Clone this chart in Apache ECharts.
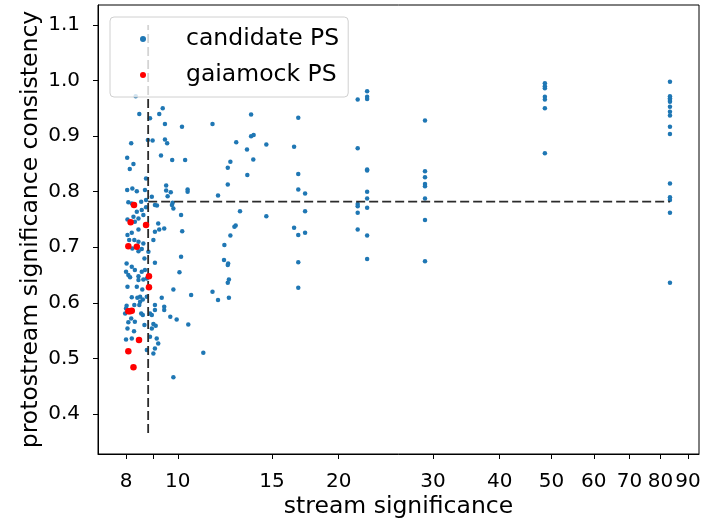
<!DOCTYPE html>
<html><head><meta charset="utf-8">
<script src="https://cdn.jsdelivr.net/npm/echarts@6/dist/echarts.min.js"></script>
<style>html,body{margin:0;padding:0;background:#fff}#c{width:711px;height:519px}</style>
</head><body><div id="c"></div>
<script>
// ---- data ----
const xTickValues  = [8, 9, 10, 15, 20, 30, 40, 50, 60, 70, 80, 90];
const xLabelValues = [8, 10, 15, 20, 30, 40, 50, 60, 70, 80, 90];
const yTickValues  = [0.4, 0.5, 0.6, 0.7, 0.8, 0.9, 1.0, 1.1];
const xRange = [7.09, 94.4];
const yRange = [0.328, 1.136];

const candidateX = [
 8.34,8.47,8.87,9.23,9.37,9.46,10.18,8.18,8.79,8.97,9.46,9.55,8.04,8.26,8.13,9.30,9.76,10.32,8.72,8.04,
 8.22,8.68,9.51,9.51,9.57,9.70,10.43,10.43,8.54,8.72,9.14,9.78,8.08,8.20,8.38,8.94,9.06,9.75,9.81,8.56,
 8.72,8.38,8.26,8.44,8.62,8.05,8.31,9.19,9.23,9.43,10.14,10.19,8.05,8.20,8.44,9.06,8.11,8.29,8.44,8.62,
 9.00,8.22,8.44,8.56,8.81,8.66,9.06,10.14,8.02,8.20,8.31,8.56,8.68,8.00,8.08,8.14,8.44,8.62,8.75,8.44,
 10.07,8.05,8.38,8.58,9.81,10.59,8.20,8.50,8.40,8.60,8.50,8.75,9.33,8.02,8.29,8.47,9.06,9.06,9.43,9.43,
 8.00,7.97,8.54,8.60,8.87,8.94,9.68,9.95,8.18,8.08,8.31,8.66,9.00,9.09,10.46,8.05,8.28,8.94,8.87,9.13,
 8.00,8.20,9.19,9.06,8.75,9.00,11.16,9.81,
 11.61,13.71,12.86,13.71,13.86,14.64,13.47,12.54,13.84,12.40,13.49,12.40,11.89,13.07,14.64,12.83,12.76,
 12.54,12.22,12.20,12.42,12.40,12.46,12.40,11.61,11.89,12.46,
 16.8,16.5,16.8,16.8,17.3,17.3,16.5,16.8,17.3,16.8,16.8,
 21.7,21.7,21.7,21.7,21.7,21.7,
 22.6,22.6,22.6,22.6,22.6,22.6,22.6,22.6,22.6,22.6,
 29.0,29.0,29.0,29.0,29.0,29.0,29.0,29.0,
 48.6,48.6,48.6,48.6,48.6,48.6,48.6,
 83.3,83.3,83.3,83.3,83.3,83.3,83.3,83.3,83.3,83.3,83.3,83.3,83.3,83.3,83.3
];
const candidateY = [
 0.972,0.940,0.932,0.940,0.950,0.922,0.917,0.887,0.893,0.892,0.894,0.887,0.861,0.850,0.841,0.865,0.857,0.857,0.824,0.803,
 0.806,0.803,0.811,0.802,0.792,0.799,0.804,0.800,0.782,0.785,0.775,0.780,0.781,0.779,0.801,0.791,0.776,0.776,0.770,0.767,
 0.772,0.764,0.755,0.752,0.758,0.750,0.746,0.743,0.732,0.734,0.758,0.729,0.722,0.726,0.732,0.728,0.713,0.713,0.710,0.707,
 0.713,0.698,0.693,0.697,0.692,0.680,0.672,0.683,0.671,0.665,0.659,0.656,0.659,0.656,0.650,0.646,0.648,0.642,0.644,0.641,
 0.655,0.629,0.629,0.624,0.624,0.614,0.610,0.611,0.609,0.606,0.602,0.611,0.609,0.595,0.596,0.596,0.596,0.587,0.593,0.587,
 0.590,0.581,0.581,0.578,0.581,0.578,0.575,0.570,0.572,0.565,0.566,0.560,0.562,0.559,0.561,0.554,0.549,0.554,0.539,0.536,
 0.534,0.536,0.527,0.518,0.515,0.509,0.510,0.466,
 0.922,0.939,0.889,0.900,0.902,0.885,0.876,0.854,0.858,0.843,0.830,0.813,0.793,0.765,0.756,0.739,0.737,
 0.721,0.704,0.677,0.671,0.668,0.642,0.636,0.620,0.605,0.609,
 0.933,0.881,0.832,0.804,0.797,0.765,0.735,0.722,0.726,0.673,0.627,
 0.966,0.878,0.778,0.774,0.762,0.732,
 0.981,0.971,0.967,0.840,0.838,0.800,0.788,0.771,0.721,0.679,
 0.928,0.837,0.826,0.814,0.810,0.788,0.749,0.675,
 0.995,0.990,0.986,0.971,0.966,0.950,0.869,
 0.998,0.972,0.968,0.965,0.962,0.953,0.944,0.937,0.917,0.904,0.815,0.790,0.785,0.762,0.636
];
const gaiamockX = [8.28, 8.16, 8.72, 8.08, 8.38, 8.83, 8.83, 8.08, 8.14, 8.20, 8.46, 8.08, 8.26];
const gaiamockY = [0.776, 0.745, 0.740, 0.702, 0.701, 0.648, 0.628, 0.585, 0.585, 0.586, 0.533, 0.513, 0.484];

const thresholdX = 8.8;
const thresholdY = 0.782;
const vLineY = [0.366, 1.1];
const hLineX = [8.8, 83.3];

// ---- chart ----
const lg = Math.log10;
const FONT = 'DejaVu Sans';
const chart = echarts.init(document.getElementById('c'), null, {renderer: 'canvas'});
chart.setOption({
  animation: false,
  backgroundColor: '#fff',
  grid: {left: 98, right: 12, top: 5, bottom: 65, containLabel: false, outerBoundsMode: 'none',
         show: true, borderColor: '#000', borderWidth: 1, backgroundColor: 'transparent'},
  legend: {
    orient: 'vertical', left: 110, top: 17,
    padding: [10, 9, 10, 30],
    itemWidth: 6, itemHeight: 6, itemGap: 12,
    borderColor: '#d0d0d0', borderWidth: 1, borderRadius: 4,
    backgroundColor: 'rgba(255,255,255,0.8)',
    textStyle: {fontFamily: FONT, fontSize: 23.5, color: '#000', padding: [0, 0, 0, 35], lineHeight: 22},
    data: [{name: 'candidate PS', icon: 'circle'}, {name: 'gaiamock PS', icon: 'circle'}]
  },
  xAxis: {
    type: 'value', min: lg(xRange[0]), max: lg(xRange[1]),
    name: 'stream significance', nameLocation: 'middle', nameGap: 41, nameMoveOverlap: false,
    nameTextStyle: {fontFamily: FONT, fontSize: 23.5, color: '#000'},
    axisLine: {lineStyle: {color: '#000', width: 1}},
    axisTick: {show: true, length: 5, lineStyle: {color: '#000'}, customValues: xTickValues.map(lg)},
    axisLabel: {fontFamily: FONT, fontSize: 20, color: '#000', margin: 18,
      customValues: xLabelValues.map(lg),
      formatter: v => String(Math.round(Math.pow(10, v)))},
    splitLine: {show: false}
  },
  yAxis: {
    type: 'value', min: yRange[0], max: yRange[1],
    name: 'protostream significance consistency', nameLocation: 'middle', nameGap: 55, nameMoveOverlap: false,
    nameTextStyle: {fontFamily: FONT, fontSize: 23.5, color: '#000'},
    axisLine: {show: true, lineStyle: {color: '#000', width: 1}},
    axisTick: {show: true, length: 5, lineStyle: {color: '#000'}, customValues: yTickValues},
    axisLabel: {fontFamily: FONT, fontSize: 20, color: '#000', margin: 18,
      customValues: yTickValues, formatter: v => v.toFixed(1)},
    splitLine: {show: false}
  },
  series: [
    {name: 'candidate PS', type: 'scatter', symbol: 'circle', symbolSize: 4.5, z: 2,
     itemStyle: {color: '#1f77b4', opacity: 1},
     data: candidateX.map((x, i) => [lg(x), candidateY[i]])},
    {name: 'vline', type: 'line', symbol: 'none', silent: true, z: 3,
     lineStyle: {color: '#2b2b2b', width: 1.8, type: [9, 4]},
     data: vLineY.map(y => [lg(thresholdX), y])},
    {name: 'hline', type: 'line', symbol: 'none', silent: true, z: 3,
     lineStyle: {color: '#2b2b2b', width: 1.8, type: [9, 4]},
     data: hLineX.map(x => [lg(x), thresholdY])},
    {name: 'gaiamock PS', type: 'scatter', symbol: 'circle', symbolSize: 6.5, z: 4,
     itemStyle: {color: '#ff0000', opacity: 1},
     data: gaiamockX.map((x, i) => [lg(x), gaiamockY[i]])}
  ]
});
</script>
</body></html>
